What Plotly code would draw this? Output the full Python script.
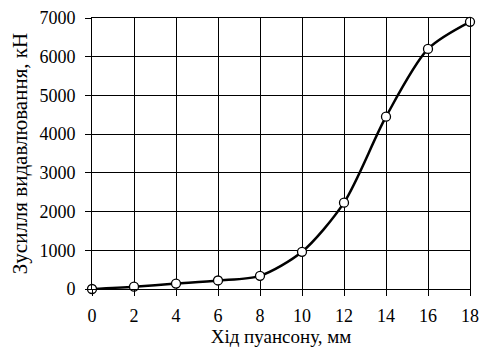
import plotly.graph_objects as go

stroke_mm = [0, 2, 4, 6, 8, 10, 12, 14, 16, 18]
force_kn = [0, 60, 140, 220, 340, 960, 2230, 4450, 6200, 6900]
x_ticks = list(range(0, 19, 2))
y_ticks = list(range(0, 7001, 1000))

FONT = "Liberation Serif"

fig = go.Figure()
fig.add_trace(go.Scatter(
    x=stroke_mm, y=force_kn, mode="lines+markers",
    line=dict(color="black", width=2.5, shape="spline", smoothing=0.8),
    marker=dict(size=9, color="white", line=dict(color="black", width=1.3)),
    cliponaxis=False, showlegend=False,
))

axis_common = dict(
    showline=True, linecolor="black", linewidth=1, mirror=True,
    showgrid=True, gridcolor="black", gridwidth=1,
    ticks="outside", ticklen=6, tickcolor="black", tickwidth=1,
    zeroline=False, tickfont=dict(family=FONT, size=18, color="black"),
)
fig.update_xaxes(range=[0, 18], tickvals=x_ticks, ticklabelstandoff=4,
                 title=dict(text="Хід пуансону, мм", font=dict(family=FONT, size=19, color="black"), standoff=0),
                 **axis_common)
fig.update_yaxes(range=[0, 7000], tickvals=y_ticks, ticklabelstandoff=6,
                 title=dict(text="Зусилля видавлювання, кН", font=dict(family=FONT, size=21, color="black"), standoff=6),
                 **axis_common)

fig.update_layout(
    width=480, height=349,
    margin=dict(l=92, r=10, t=18, b=60, autoexpand=False),
    paper_bgcolor="white", plot_bgcolor="white",
    font=dict(family=FONT, color="black"),
)
fig.write_html("out.html", config={"displayModeBar": False},
               post_script="document.body.style.margin='0';document.body.style.padding='0';")
